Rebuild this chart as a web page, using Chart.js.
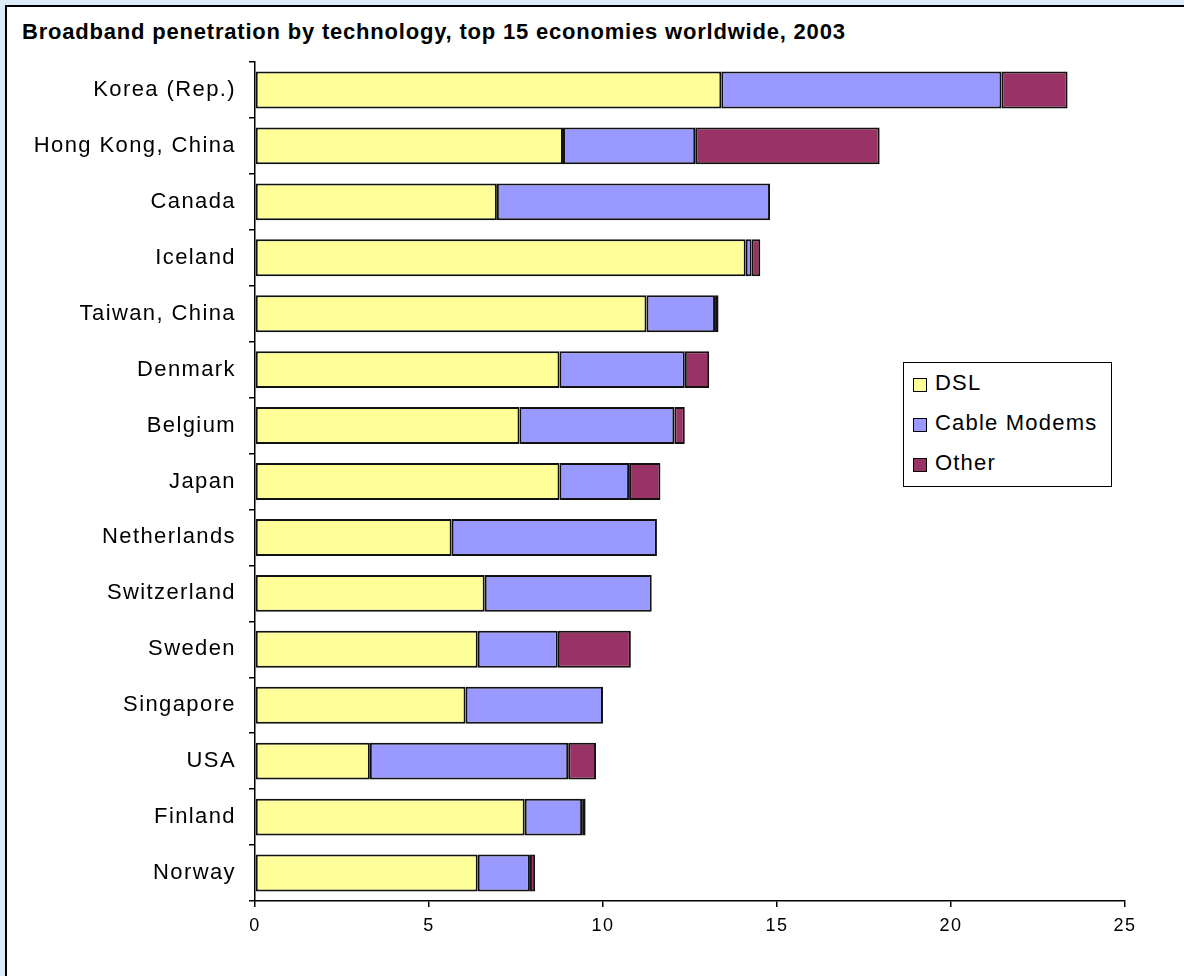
<!DOCTYPE html>
<html>
<head>
<meta charset="utf-8">
<script src="https://cdn.jsdelivr.net/npm/chart.js@4/dist/chart.umd.min.js"></script>
<style>
  html, body { margin: 0; padding: 0; }
  body { width: 1184px; height: 976px; background: #dcecfb; position: relative; overflow: hidden; font-family: "Liberation Sans", Arial, sans-serif; }
  #frame { position: absolute; left: 5px; top: 5px; width: 1210px; height: 1000px; background: #fff; border: 2px solid #000; box-sizing: border-box; }
  #title { position: absolute; left: 22px; top: 20px; font-weight: bold; font-size: 22px; line-height: 24px; letter-spacing: 0.8px; color: #000; white-space: nowrap; }
  #wrap { position: absolute; left: 0; top: 0; width: 1184px; height: 976px; }
  #legend { position: absolute; left: 903px; top: 362px; width: 209px; height: 125px; border: 1px solid #000; background: #fff; box-sizing: border-box; }
  .li { position: absolute; left: 9px; height: 26px; display: flex; align-items: center; font-size: 22px; letter-spacing: 1.2px; color: #000; }
  .sw { width: 14px; height: 14px; border: 1.5px solid #000; box-sizing: border-box; margin-right: 8px; margin-top: 3px; }
</style>
</head>
<body>
<div id="frame"></div>
<div id="title">Broadband penetration by technology, top 15 economies worldwide, 2003</div>
<div id="wrap"><canvas id="c" width="1184" height="976"></canvas></div>
<div id="legend"></div>
<script>
const categories = ["Korea (Rep.)", "Hong Kong, China", "Canada", "Iceland", "Taiwan, China", "Denmark", "Belgium", "Japan", "Netherlands", "Switzerland", "Sweden", "Singapore", "USA", "Finland", "Norway"];
const dsl   = [13.4, 8.85, 6.95, 14.1, 11.25, 8.75, 7.6, 8.75, 5.65, 6.6, 6.4, 6.05, 3.3, 7.75, 6.4];
const cable = [8.05, 3.8, 7.85, 0.17, 1.97, 3.6, 4.45, 2.0, 5.9, 4.8, 2.3, 3.95, 5.7, 1.65, 1.5];
const other = [1.9, 5.3, 0, 0.25, 0.1, 0.7, 0.3, 0.9, 0, 0, 2.1, 0, 0.8, 0.1, 0.15];
const seriesNames = ["DSL", "Cable Modems", "Other"];
const seriesColors = ["#FFFF99", "#9999FF", "#993366"];
const xTicks = [0, 5, 10, 15, 20, 25];

const font = { family: "'Liberation Sans', Arial, sans-serif" };
const seriesData = [dsl, cable, other];

const spacingPlugin = {
  id: 'spacing',
  beforeDraw: (chart) => { chart.ctx.letterSpacing = '1.4px'; }
};

const chart = new Chart(document.getElementById('c'), {
  type: 'bar',
  data: {
    labels: categories,
    datasets: seriesNames.map((n, i) => ({
      label: n,
      data: seriesData[i],
      backgroundColor: seriesColors[i],
      borderColor: '#111',
      borderWidth: 2,
      borderSkipped: false,
      barPercentage: 0.66,
      categoryPercentage: 1.0
    }))
  },
  plugins: [spacingPlugin],
  options: {
    indexAxis: 'y',
    responsive: false,
    animation: false,
    layout: { padding: { left: 0, right: 59, top: 62, bottom: 35 } },
    plugins: { legend: { display: false }, title: { display: false }, tooltip: { enabled: false } },
    scales: {
      x: {
        stacked: true,
        min: 0, max: 25,
        afterBuildTicks: (s) => { s.ticks = xTicks.map(v => ({ value: v })); },
        afterFit: (s) => { s.height = 40; },
        grid: { drawOnChartArea: false, color: '#000', tickLength: 6, tickColor: '#000', lineWidth: 1.5 },
        border: { display: true, color: '#000', width: 1.5 },
        ticks: { color: '#000', font: { ...font, size: 18 }, padding: 8, maxRotation: 0 }
      },
      y: {
        stacked: true,
        afterFit: (s) => { s.width = 255; },
        grid: { offset: true, drawOnChartArea: false, color: '#000', tickLength: 6, tickColor: '#000', lineWidth: 1.5 },
        border: { display: true, color: '#000', width: 1.5 },
        ticks: { color: '#000', font: { ...font, size: 22 }, padding: 13, autoSkip: false }
      }
    }
  }
});

const lg = document.getElementById('legend');
chart.data.datasets.forEach((ds, i) => {
  const d = document.createElement('div');
  d.className = 'li';
  d.style.top = (7 + i * 40) + 'px';
  const sw = document.createElement('span');
  sw.className = 'sw';
  sw.style.background = ds.backgroundColor;
  const t = document.createElement('span');
  t.textContent = ds.label;
  d.appendChild(sw); d.appendChild(t);
  lg.appendChild(d);
});
</script>
</body>
</html>
